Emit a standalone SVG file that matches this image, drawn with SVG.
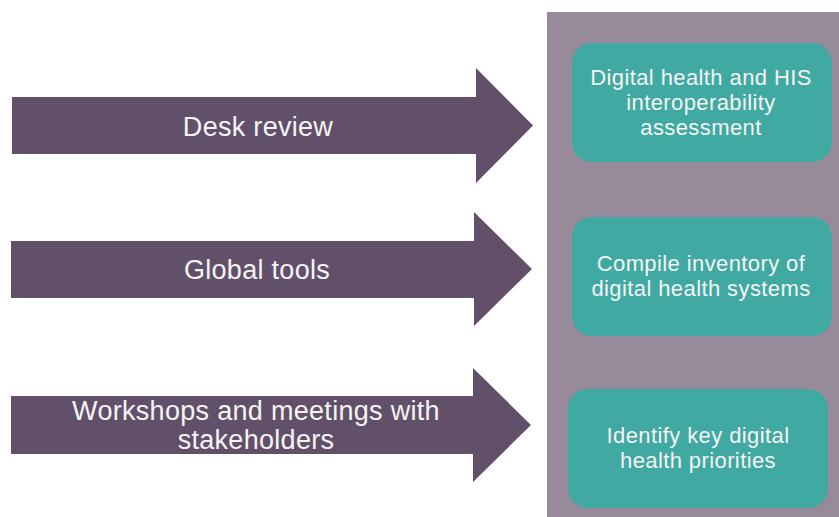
<svg xmlns="http://www.w3.org/2000/svg" width="839" height="517" viewBox="0 0 839 517">
  <style>
    .arrow { fill: #62506a; }
    .panel { fill: #978b9b; }
    .box { fill: #40a9a2; }
    .lbl { fill: #f4f4f4; font-family: "Liberation Sans", Arial, sans-serif; text-anchor: middle; }
    .in { font-size: 27px; letter-spacing: 0.3px; }
    .out { font-size: 22px; letter-spacing: 0.4px; }
  </style>
  <rect width="839" height="517" fill="#ffffff"/>

  <!-- outcomes panel -->
  <rect id="panel" class="panel" x="547" y="12" width="292" height="505"/>

  <g id="connectors">
    <!-- input arrows pointing into the outcomes panel -->
    <g id="arrow-desk-review">
      <polygon class="arrow" points="12,97 476,97 476,68 533,125.5 476,183 476,154 12,154"/>
      <text class="lbl in" x="258" y="136">Desk review</text>
    </g>
    <g id="arrow-global-tools">
      <polygon class="arrow" points="11,241 474,241 474,212 532,269 474,326 474,298 11,298"/>
      <text class="lbl in" x="257" y="279">Global tools</text>
    </g>
    <g id="arrow-workshops">
      <polygon class="arrow" points="11,396 473,396 473,368 531,425 473,482 473,454 11,454"/>
      <text class="lbl in" x="256" y="420">Workshops and meetings with</text>
      <text class="lbl in" x="256" y="449">stakeholders</text>
    </g>
  </g>

  <g id="node-assessment">
    <rect class="box" x="572" y="43" width="260" height="119" rx="20"/>
    <text class="lbl out" x="701" y="85">Digital health and HIS</text>
    <text class="lbl out" x="701" y="110">interoperability</text>
    <text class="lbl out" x="701" y="135">assessment</text>
  </g>
  <g id="node-inventory">
    <rect class="box" x="572" y="217" width="260" height="119" rx="20"/>
    <text class="lbl out" x="701" y="271">Compile inventory of</text>
    <text class="lbl out" x="701" y="296">digital health systems</text>
  </g>
  <g id="node-priorities">
    <rect class="box" x="568" y="389" width="260" height="119" rx="20"/>
    <text class="lbl out" x="698" y="443">Identify key digital</text>
    <text class="lbl out" x="698" y="468">health priorities</text>
  </g>
</svg>
